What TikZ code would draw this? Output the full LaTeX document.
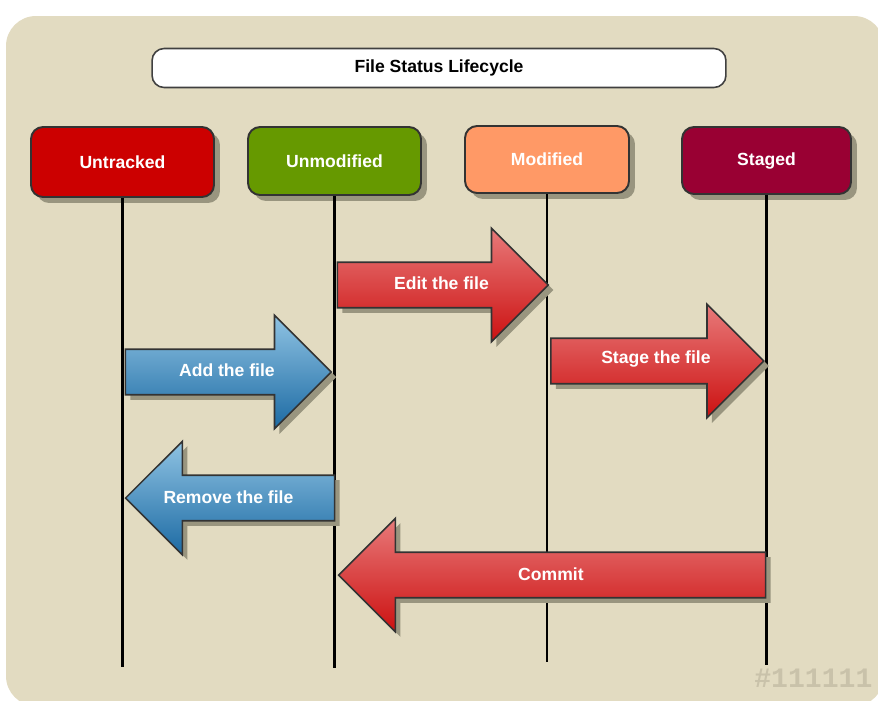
\documentclass[tikz,border=0pt]{standalone}
\usepackage{fontspec}
\setmainfont{Liberation Sans}
\usepackage{tikz}
\usetikzlibrary{shapes.arrows, shadows, calc}
\definecolor{wall}{HTML}{E2DBC1}
\definecolor{shade}{HTML}{99957F}
\definecolor{boxline}{HTML}{333333}
\definecolor{untracked}{HTML}{CC0000}
\definecolor{unmodified}{HTML}{669900}
\definecolor{modified}{HTML}{FF9966}
\definecolor{staged}{HTML}{990033}
\definecolor{redtop}{HTML}{E87A7A}
\definecolor{redbot}{HTML}{CC1111}
\definecolor{bluetop}{HTML}{8FC3E3}
\definecolor{bluebot}{HTML}{1C6AA3}
\definecolor{markgray}{HTML}{C9C2AA}
\tikzstyle{titlebox} = [rectangle, rounded corners=0.24cm,
minimum width=11.48cm,
minimum height=0.78cm,
text centered,
draw=gray!50!black,
line width=0.9pt,
fill=white,
font=\bfseries\fontsize{10}{12}\selectfont]
\tikzstyle{state} = [rectangle, rounded corners=0.24cm,
minimum height=1.36cm,
text centered,
draw=boxline,
line width=1.1pt,
text=white,
font=\bfseries\fontsize{10}{12}\selectfont,
drop shadow={shadow xshift=0.12cm, shadow yshift=-0.12cm, fill=shade, opacity=1}]
\tikzstyle{flow} = [single arrow,
single arrow head extend=0.68cm,
text height=7.5pt,
text depth=2.5pt,
inner ysep=0.264cm,
draw=boxline,
line width=0.9pt,
drop shadow={shadow xshift=0.1cm, shadow yshift=-0.1cm, fill=shade, opacity=1}]
\tikzstyle{redflow} = [flow, top color=redtop, bottom color=redbot]
\tikzstyle{blueflow} = [flow, top color=bluetop, bottom color=bluebot]
\tikzstyle{flowtext} = [text=white, inner sep=0pt,
font=\bfseries\fontsize{10}{12}\selectfont]
\tikzstyle{lifeline} = [line width=1.4pt, black]

\begin{document}
\begin{tikzpicture}[x=0.02cm, y=-0.02cm]
        \useasboundingbox (0,0) rectangle (878,700);
        \fill[wall, rounded corners=0.6cm] (6,16) rectangle (884,706);

        \node (title) [titlebox] at (439,68) {File Status Lifecycle};

        \node (untr) [state, fill=untracked, minimum width=3.66cm, minimum height=1.4cm] at (122.5,162) {Untracked};
        \node (unmod) [state, fill=unmodified, minimum width=3.46cm] at (334.5,161) {Unmodified};
        \node (mod) [state, fill=modified, minimum width=3.28cm, minimum height=1.34cm] at (547,159.5) {Modified};
        \node (stg) [state, fill=staged, minimum width=3.38cm, minimum height=1.34cm] at (766.5,160.5) {Staged};

        \draw [lifeline] (untr) -- (untr |- 0,667);
        \draw [lifeline] (unmod) -- (unmod |- 0,668);
        \draw [lifeline] (mod) -- (mod |- 0,662);
        \draw [lifeline] (stg) -- (stg |- 0,665);

        \node (edit) [redflow, minimum height=4.22cm, anchor=tail] at ([xshift=0.04cm]unmod |- 0,285) {};
        \node (add) [blueflow, minimum height=4.12cm, anchor=tail] at ([xshift=0.04cm]untr |- 0,372) {};
        \node (stage) [redflow, minimum height=4.26cm, anchor=tail] at ([xshift=0.06cm]mod |- 0,361) {};
        \node (remove) [blueflow, shape border rotate=180, minimum height=4.18cm, anchor=tip] at ([xshift=0.04cm]untr |- 0,498) {};
        \node (commit) [redflow, shape border rotate=180, minimum height=8.54cm, anchor=tip] at ([xshift=0.06cm]unmod |- 0,575) {};

        \node (edittext) [flowtext] at ($(edit.tail)!0.5!(edit.tip)+(-1.5,-2)$) {Edit the file};
        \node (addtext) [flowtext] at ($(add.tail)!0.5!(add.tip)+(-1.5,-2)$) {Add the file};
        \node (stagetext) [flowtext] at ($(stage.tail)!0.5!(stage.tip)+(-1.5,-2)$) {Stage the file};
        \node (removetext) [flowtext] at ($(remove.tail)!0.5!(remove.tip)+(-1.5,-1)$) {Remove the file};
        \node (committext) [flowtext] at ($(commit.tail)!0.5!(commit.tip)+(-1,-1)$) {Commit};

        \node (mark) [anchor=base west, inner sep=0pt, text=markgray, font=\fontspec{Liberation Mono}\bfseries\fontsize{16}{18}\selectfont] at (754,687) {\#111111};
\end{tikzpicture}
\end{document}
